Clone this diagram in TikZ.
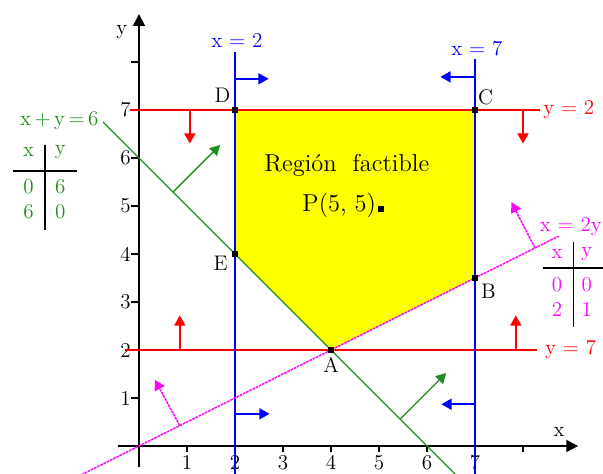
\documentclass[tikz,border=0pt]{standalone}
\usetikzlibrary{arrows.meta}
\definecolor{cred}{RGB}{255,0,0}
\definecolor{cblue}{RGB}{0,0,255}
\definecolor{cgreen}{RGB}{34,139,34}
\definecolor{cmag}{RGB}{255,0,255}
\definecolor{cyel}{RGB}{255,255,0}
\begin{document}
\begin{tikzpicture}[x=1cm,y=1cm,
  lbl/.style={font=\fontsize{12.5}{14}\selectfont, inner sep=1pt},
  big/.style={font=\fontsize{14.5}{16}\selectfont, inner sep=1pt},
  tipped/.style={-{Triangle[length=6pt,width=6.5pt]}},
  axisline/.style={draw=black, line width=1pt, -{Triangle[length=7pt,width=7pt]}},
  tick/.style={draw=black, line width=0.8pt},
  redline/.style={draw=cred, line width=0.9pt},
  blueline/.style={draw=cblue, line width=0.9pt},
  greenline/.style={draw=cgreen, line width=0.8pt},
  magline/.style={draw=cmag, line width=0.9pt, dash pattern=on 1.6pt off 0.5pt},
  pt/.style={fill=black, minimum size=4pt, inner sep=0pt, draw=none, rectangle}
]
\useasboundingbox (-2.896,-0.583) rectangle (9.667,9.292);

% vertices
\coordinate (D) at (2,7);
\coordinate (C) at (7,7);
\coordinate (B) at (7,3.5);
\coordinate (A) at (4,2);
\coordinate (E) at (2,4);

% feasible region
\fill[cyel] (D) -- (C) -- (B) -- (A) -- (E) -- cycle;

% axes
\coordinate (xs) at (-0.44,0);
\coordinate (xe) at (9.15,0);
\coordinate (ys) at (0,-0.44);
\coordinate (ye) at (0,9.0);
\draw[axisline] (xs) -- (xe);
\draw[axisline] (ys) -- (ye);
\foreach \i in {1,...,8} {
  \draw[tick] (\i,0) -- (\i,-0.12);
  \draw[tick] (0,\i) -- (-0.17,\i);
}
\foreach \i in {1,...,7} {
  \node[lbl] (xl\i) at (\i,-0.34) {\i};
  \node[lbl] (yl\i) at (-0.28,\i) {\i};
}
\node[lbl] (xlab) at (8.75,0.3) {x};
\node[lbl] (ylab) at (-0.36,8.63) {y};

% red lines
\coordinate (r1s) at (-0.19,7);
\coordinate (r1e) at (8.35,7);
\coordinate (r2s) at (-0.3,2);
\coordinate (r2e) at (8.3,2);
\draw[redline] (r1s) -- (r1e);
\draw[redline] (r2s) -- (r2e);
\coordinate (ra1) at (1.06,7);  \coordinate (ra1t) at (1.06,6.3);
\coordinate (ra2) at (8.0,7);   \coordinate (ra2t) at (8.0,6.3);
\coordinate (ra3) at (0.85,2);  \coordinate (ra3t) at (0.85,2.72);
\coordinate (ra4) at (7.85,2);  \coordinate (ra4t) at (7.85,2.72);
\draw[redline, tipped] (ra1) -- (ra1t);
\draw[redline, tipped] (ra2) -- (ra2t);
\draw[redline, tipped] (ra3) -- (ra3t);
\draw[redline, tipped] (ra4) -- (ra4t);
\node[lbl, text=cred, anchor=west] (ly2) at (8.38,7.0) {y = 2};
\node[lbl, text=cred, anchor=west] (ly7) at (8.42,2.0) {y = 7};

% blue lines
\coordinate (b1s) at (2,-0.6);
\coordinate (b1e) at (2,8.2);
\coordinate (b2s) at (7,-0.6);
\coordinate (b2e) at (7,8.06);
\draw[blueline] (b1s) -- (b1e);
\draw[blueline] (b2s) -- (b2e);
\coordinate (ba1) at (2,7.65);   \coordinate (ba1t) at (2.7,7.65);
\coordinate (ba2) at (2,0.67);   \coordinate (ba2t) at (2.72,0.67);
\coordinate (ba3) at (7,7.69);   \coordinate (ba3t) at (6.28,7.69);
\coordinate (ba4) at (7,0.87);   \coordinate (ba4t) at (6.3,0.87);
\draw[blueline, tipped] (ba1) -- (ba1t);
\draw[blueline, tipped] (ba2) -- (ba2t);
\draw[blueline, tipped] (ba3) -- (ba3t);
\draw[blueline, tipped] (ba4) -- (ba4t);
\node[lbl, text=cblue] (lx2) at (2.04,8.44) {x = 2};
\node[lbl, text=cblue] (lx7) at (7.04,8.28) {x = 7};

% green line x+y=6
\coordinate (g1s) at (-0.75,6.75);
\coordinate (g1e) at (6.6,-0.6);
\draw[greenline] (g1s) -- (g1e);
\coordinate (ga1) at (0.71,5.29);  \coordinate (ga1t) at (1.69,6.27);
\coordinate (ga2) at (5.44,0.56);  \coordinate (ga2t) at (6.4,1.52);
\draw[greenline, tipped] (ga1) -- (ga1t);
\draw[greenline, tipped] (ga2) -- (ga2t);
\node[lbl, text=cgreen, anchor=east] (lg) at (-0.8,6.78) {x\,+\,y\,=\,6};
% green table
\coordinate (gth1) at (-2.63,5.73);
\coordinate (gth2) at (-1.29,5.73);
\coordinate (gtv1) at (-1.96,6.28);
\coordinate (gtv2) at (-1.96,4.5);
\draw[black, line width=0.8pt] (gth1) -- (gth2);
\draw[black, line width=0.8pt] (gtv1) -- (gtv2);
\node[lbl, text=cgreen] (gx) at (-2.3,6.12) {x};
\node[lbl, text=cgreen] (gy) at (-1.64,6.12) {y};
\node[lbl, text=cgreen] (g11) at (-2.3,5.4) {0};
\node[lbl, text=cgreen] (g12) at (-1.64,5.4) {6};
\node[lbl, text=cgreen] (g21) at (-2.3,4.88) {6};
\node[lbl, text=cgreen] (g22) at (-1.64,4.88) {0};

% magenta line x=2y
\coordinate (m1s) at (-1.2,-0.6);
\coordinate (m1e) at (8.9,4.45);
\draw[magline] (m1s) -- (m1e);
\coordinate (ma1) at (0.85,0.425);  \coordinate (ma1t) at (0.33,1.38);
\coordinate (ma2) at (8.25,4.125);  \coordinate (ma2t) at (7.76,5.08);
\draw[magline, tipped] (ma1) -- (ma1t);
\draw[magline, tipped] (ma2) -- (ma2t);
\node[lbl, text=cmag, anchor=east, fill=white, inner sep=0.5pt] (lm) at (9.667,4.58) {x = 2y};
% magenta table
\coordinate (mth1) at (8.42,3.71);
\coordinate (mth2) at (9.67,3.71);
\coordinate (mtv1) at (9.05,4.25);
\coordinate (mtv2) at (9.05,2.48);
\draw[black, line width=0.8pt] (mth1) -- (mth2);
\draw[black, line width=0.8pt] (mtv1) -- (mtv2);
\node[lbl, text=cmag] (mx) at (8.71,4.0) {x};
\node[lbl, text=cmag] (my) at (9.33,4.0) {y};
\node[lbl, text=cmag] (m11) at (8.71,3.35) {0};
\node[lbl, text=cmag] (m12) at (9.33,3.35) {0};
\node[lbl, text=cmag] (m21) at (8.71,2.84) {2};
\node[lbl, text=cmag] (m22) at (9.33,2.84) {1};

% vertices markers and labels
\node[pt] (pD) at (D) {};
\node[pt] (pC) at (C) {};
\node[pt] (pB) at (B) {};
\node[pt] (pA) at (A) {};
\node[pt] (pE) at (E) {};
\node[lbl] (lD) at (1.74,7.3) {D};
\node[lbl] (lC) at (7.22,7.27) {C};
\node[lbl] (lB) at (7.28,3.23) {B};
\node[lbl] (lA) at (4.0,1.68) {A};
\node[lbl] (lE) at (1.7,3.8) {E};

% region text
\node[big] (rt) at (4.33,5.85) {Región\ \ factible};
\node[pt, minimum size=3.5pt] (pP) at (5.05,4.93) {};
\node[big, anchor=east] (pt) at (4.98,5.02) {P(5, 5)};
\end{tikzpicture}
\end{document}
